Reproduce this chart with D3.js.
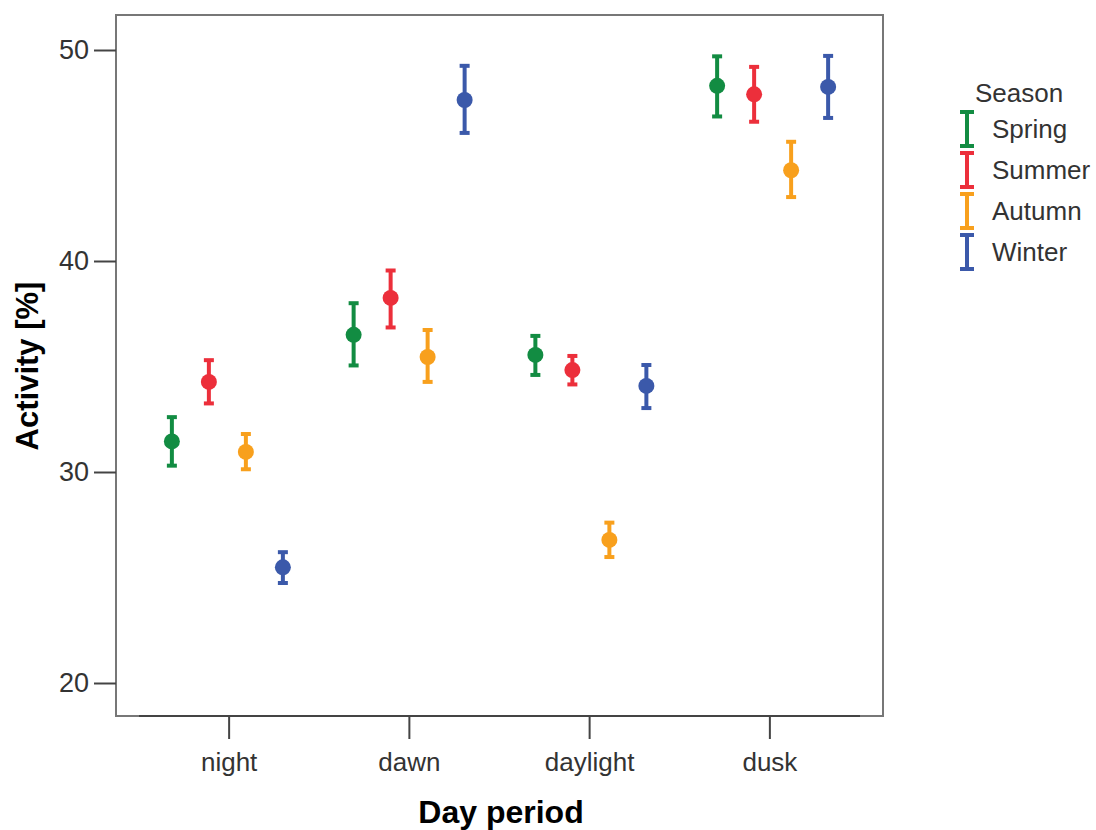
<!DOCTYPE html>
<html>
<head>
<meta charset="utf-8">
<script src="https://cdn.jsdelivr.net/npm/d3@7"></script>
<style>
  body { margin: 0; background: #fff; }
  text { font-family: "Liberation Sans", Arial, sans-serif; }
</style>
</head>
<body>
<div id="canvas"></div>
<script>
// data
var periods = ["night", "dawn", "daylight", "dusk"];
var seasons = ["Spring", "Summer", "Autumn", "Winter"];
var seasonColors = ["#128c42", "#ec2f3b", "#f8a01d", "#3b59aa"];
var yTicks = [20, 30, 40, 50];

// mean, lower, upper per period (rows: season)
var springMean = [31.45, 36.5, 35.55, 48.3];
var springLow  = [30.3, 35.05, 34.6, 46.85];
var springHigh = [32.6, 38.0, 36.45, 49.7];

var summerMean = [34.27, 38.25, 34.83, 47.9];
var summerLow  = [33.25, 36.85, 34.15, 46.6];
var summerHigh = [35.3, 39.55, 35.5, 49.2];

var autumnMean = [30.95, 35.45, 26.78, 44.3];
var autumnLow  = [30.13, 34.27, 25.97, 43.03];
var autumnHigh = [31.8, 36.73, 27.6, 45.65];

var winterMean = [25.48, 47.63, 34.08, 48.25];
var winterLow  = [24.74, 46.07, 33.03, 46.78];
var winterHigh = [26.2, 49.25, 35.07, 49.72];

var means = [springMean, summerMean, autumnMean, winterMean];
var lows = [springLow, summerLow, autumnLow, winterLow];
var highs = [springHigh, summerHigh, autumnHigh, winterHigh];

var w = 1096, h = 830;
var box = {left: 116, right: 883, top: 15, bottom: 716};

var svg = d3.select("#canvas")
    .append("svg")
    .attr("width", w)
    .attr("height", h);

var y = d3.scaleLinear()
    .domain([20, 50])
    .range([683, 50]);

// axis ticks
var x = d3.scaleBand()
    .domain(periods)
    .range([139, 860]);

// marks sit on a slightly wider grid than the ticks
var xMark = d3.scaleBand()
    .domain(periods)
    .range([138, 865]);

var xs = d3.scalePoint()
    .domain(seasons)
    .range([-57, 54]);

// flatten for drawing
var points = [];
seasons.forEach(function(s, i) {
    periods.forEach(function(p, j) {
        points.push({season: s, period: p, color: seasonColors[i],
            mean: means[i][j], low: lows[i][j], high: highs[i][j]});
    });
});

// frame
svg.append("rect")
    .attr("x", box.left)
    .attr("y", box.top)
    .attr("width", box.right - box.left)
    .attr("height", box.bottom - box.top)
    .attr("fill", "none")
    .attr("stroke", "#777")
    .attr("stroke-width", 2);

// y axis
var yAxis = svg.append("g")
    .attr("transform", "translate(" + box.left + ",0)")
    .call(d3.axisLeft(y).tickValues(yTicks).tickSize(22).tickPadding(5));
yAxis.select(".domain").remove();
yAxis.selectAll(".tick line").attr("stroke", "#444").attr("stroke-width", 2);
yAxis.selectAll(".tick text")
    .attr("fill", "#333")
    .style("font-size", "27px")
    .style("font-family", "Liberation Sans, Arial, sans-serif");

// x axis
var xAxis = svg.append("g")
    .attr("transform", "translate(0," + box.bottom + ")")
    .call(d3.axisBottom(x).tickSize(23).tickPadding(14));
xAxis.select(".domain")
    .attr("d", "M" + x.range()[0] + ",0H" + x.range()[1])
    .attr("stroke", "#444")
    .attr("stroke-width", 2);
xAxis.selectAll(".tick line").attr("stroke", "#444").attr("stroke-width", 2);
xAxis.selectAll(".tick text")
    .attr("fill", "#333")
    .style("font-size", "26px")
    .style("font-family", "Liberation Sans, Arial, sans-serif");

// axis titles
svg.append("text")
    .attr("x", 501)
    .attr("y", 823)
    .attr("text-anchor", "middle")
    .style("font-size", "32px")
    .style("font-weight", "bold")
    .text("Day period");

svg.append("text")
    .attr("transform", "translate(38,366) rotate(-90)")
    .attr("text-anchor", "middle")
    .style("font-size", "31px")
    .style("font-weight", "bold")
    .text("Activity [%]");

// error bars
var px = function(d) { return xMark(d.period) + xMark.bandwidth() / 2 + xs(d.season); };
var g = svg.append("g");

g.selectAll("line.bar")
    .data(points)
    .join("line")
    .attr("class", "bar")
    .attr("x1", px).attr("x2", px)
    .attr("y1", d => y(d.low)).attr("y2", d => y(d.high))
    .attr("stroke", d => d.color)
    .attr("stroke-width", 4);

["low", "high"].forEach(function(k) {
    g.selectAll("line.cap-" + k)
        .data(points)
        .join("line")
        .attr("class", "cap-" + k)
        .attr("x1", d => px(d) - 5).attr("x2", d => px(d) + 5)
        .attr("y1", d => y(d[k])).attr("y2", d => y(d[k]))
        .attr("stroke", d => d.color)
        .attr("stroke-width", 4);
});

g.selectAll("circle")
    .data(points)
    .join("circle")
    .attr("cx", px)
    .attr("cy", d => y(d.mean))
    .attr("r", 8)
    .attr("fill", d => d.color);

// legend
var legend = svg.append("g").attr("transform", "translate(967,0)");
legend.append("text")
    .attr("x", 8)
    .attr("y", 102)
    .attr("fill", "#333")
    .style("font-size", "26px")
    .text("Season");

var items = legend.selectAll("g.item")
    .data(seasons)
    .join("g")
    .attr("class", "item")
    .attr("transform", (d, i) => "translate(0," + (129 + i * 41) + ")");

items.append("line")
    .attr("x1", 0).attr("x2", 0)
    .attr("y1", -17).attr("y2", 17)
    .attr("stroke", (d, i) => seasonColors[i])
    .attr("stroke-width", 4);
items.append("line")
    .attr("x1", -7).attr("x2", 7)
    .attr("y1", -17).attr("y2", -17)
    .attr("stroke", (d, i) => seasonColors[i])
    .attr("stroke-width", 4);
items.append("line")
    .attr("x1", -7).attr("x2", 7)
    .attr("y1", 17).attr("y2", 17)
    .attr("stroke", (d, i) => seasonColors[i])
    .attr("stroke-width", 4);
items.append("text")
    .attr("x", 25)
    .attr("y", 9)
    .attr("fill", "#333")
    .style("font-size", "26px")
    .text(d => d);
</script>
</body>
</html>
